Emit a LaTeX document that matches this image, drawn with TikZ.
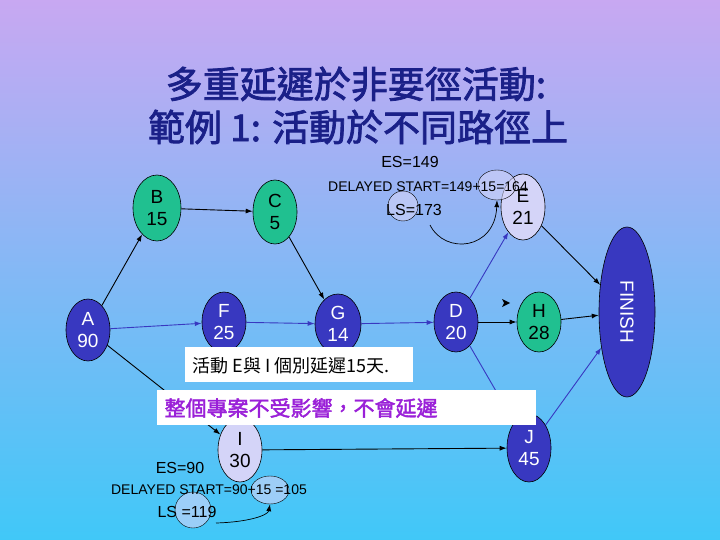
\documentclass[tikz,border=0pt]{standalone}
\usepackage{fontspec}
\setmainfont{Liberation Sans}
\newfontfamily\cjk{Noto Sans CJK TC}
\newfontfamily\cjkb{Noto Sans CJK TC}[FakeBold=2]
\usetikzlibrary{arrows.meta,shapes.geometric}
\definecolor{nblue}{HTML}{3838C0}
\definecolor{ngreen}{HTML}{20C090}
\definecolor{nlav}{HTML}{D4D4F8}
\definecolor{ttl}{HTML}{1A2088}
\definecolor{purp}{HTML}{9A20D8}
\definecolor{bgtop}{HTML}{C8A8F2}
\definecolor{bgbot}{HTML}{40C8F8}
\begin{document}
\begin{tikzpicture}[x=1pt,y=-1pt,
 act/.style={ellipse,draw=black,line width=0.6pt,minimum width=44pt,minimum height=62pt,inner sep=0pt,align=center,font=\fontsize{19}{22}\selectfont},
 bl/.style={act,fill=nblue,text=white},
 gr/.style={act,fill=ngreen},
 lv/.style={act,fill=nlav},
 kb/.style={-{Latex[length=7pt,width=5pt]},black,line width=0.9pt},
 bb/.style={-{Latex[length=7pt,width=5pt]},nblue,line width=0.9pt},
 ann/.style={font=\fontsize{16}{18}\selectfont,inner sep=0pt},
 small/.style={ellipse,draw=black,fill=nlav,fill opacity=0.6,inner sep=0pt},
 ttlf/.style={text=ttl,font=\cjkb\fontsize{37}{40}\selectfont}]
\shade[top color=bgtop,bottom color=bgbot] (0,0) rectangle (720,540);
\useasboundingbox (0,0) rectangle (720,540);
% title
\node[ttlf] (t1) at (356,84) {多重延遲於非要徑活動:};
\node[ttlf] (t2) at (358,127) {範例 1: 活動於不同路徑上};
% nodes
\node[bl] (A) at (88,330) {A\\90};
\node[gr,minimum height=66pt,minimum width=48pt] (B) at (157,208) {B\\15};
\node[gr,minimum height=64pt] (C) at (275,212) {C\\5};
\node[bl,minimum height=60pt] (F) at (224,322) {F\\25};
\node[bl,minimum height=60pt,minimum width=46pt] (G) at (338,324) {G\\14};
\node[bl,minimum height=60pt] (D) at (456,322) {D\\20};
\node[lv,minimum height=66pt] (E) at (523,207) {E\\21};
\node[gr,minimum height=60pt] (H) at (539,322) {H\\28};
\node[bl,minimum width=56pt,minimum height=170pt] (FIN) at (627,312) {};
\node[text=white,rotate=-90,font=\fontsize{19}{22}\selectfont] at (FIN) {FINISH};
\node[lv,minimum height=64pt] (I) at (240,450) {I\\30};
\node[bl,minimum height=68pt] (J) at (529,448) {J\\45};
% edges
\draw[kb] (A) -- (B);
\draw[kb] (B) -- (C);
\draw[kb] (C) -- (G);
\draw[bb] (A) -- (F);
\draw[bb] (F) -- (G);
\draw[bb] (G) -- (D);
\draw[bb] (D) -- (E);
\draw[kb] (D) -- (H);
\draw[kb] (H) -- (FIN);
\draw[kb] (E) -- (FIN);
\draw[kb] (A) -- (I);
\draw[kb] (I) -- (J);
\draw[bb] (D) -- (J);
\draw[bb] (J) -- (FIN);
\coordinate (st) at (510,303);
\fill (st) -- ++(-8,-4) -- ++(2,4) -- ++(-2,4) -- cycle;
% boxes
\node[fill=white,minimum width=228pt,minimum height=35pt,inner sep=0pt] (b1) at (299,364) {};
\node[font=\cjk\fontsize{18}{20}\selectfont,anchor=west] at (189,366) {活動 E與 I 個別延遲15天.};
\node[fill=white,minimum width=379pt,minimum height=35pt,inner sep=0pt] (b2) at (346.5,407) {};
\node[font=\cjkb\fontsize{21}{24}\selectfont,text=purp,anchor=west] at (161,408) {整個專案不受影響，不會延遲};
% top annotation
\node[small,minimum width=38pt,minimum height=30pt] (s1) at (497,185) {};
\node[small,minimum width=30pt,minimum height=30pt] (s2) at (403,206) {};
\node[ann] at (410,162) {ES=149};
\node[ann,font=\fontsize{14}{16}\selectfont] at (428,187) {DELAYED START=149+15=164};
\node[ann] at (414,210) {LS=173};
\coordinate (a1) at (430,225);
\draw[kb,line width=0.7pt] (a1) .. controls (445,255) and (495,250) .. (s1.south);
% bottom annotation
\node[small,minimum width=38pt,minimum height=28pt] (s3) at (270,490) {};
\node[small,minimum width=36pt,minimum height=36pt] (s4) at (193,510) {};
\node[ann] at (180,468) {ES=90};
\node[ann,font=\fontsize{14}{16}\selectfont] at (209,490) {DELAYED START=90+15 =105};
\node[ann] at (187,512) {LS =119};
\coordinate (a2) at (216,523);
\draw[kb,line width=0.7pt] (a2) .. controls (250,522) and (268,515) .. (s3.south);
\end{tikzpicture}
\end{document}
